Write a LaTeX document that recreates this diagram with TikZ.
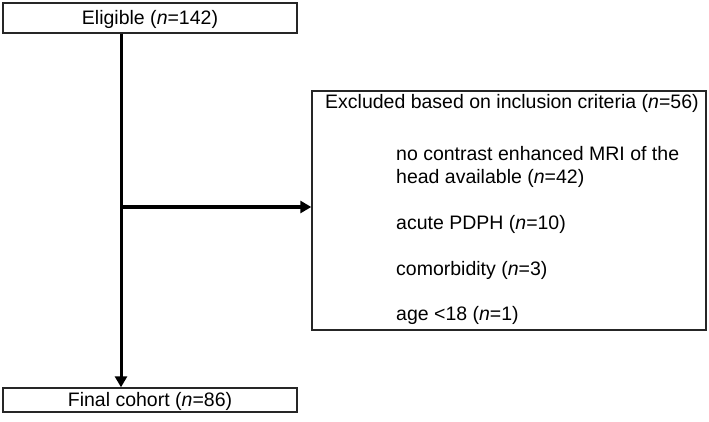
\documentclass[tikz,border=0pt]{standalone}
\usepackage{fontspec}
\setmainfont{Liberation Sans}
\usetikzlibrary{arrows.meta}
\begin{document}
\begin{tikzpicture}[x=1pt,y=1pt,
  box/.style={draw=black!85,line width=1.4pt,inner sep=0pt,fill=white},
  txt/.style={inner sep=0pt,anchor=west,font=\fontsize{19.5}{23}\selectfont,align=left},
  conn/.style={line width=3pt,-{Triangle[length=11pt,width=12pt]}}]
\useasboundingbox (0,0) rectangle (709,-422);
\node[box,minimum width=294,minimum height=30] (elig) at (150,-18) {};
\node[box,minimum width=294,minimum height=24] (final) at (150,-400) {};
\node[box,minimum width=394,minimum height=239] (excl) at (509,-210.5) {};
\node[txt,anchor=center] (te) at (150,-19.5) {Eligible (\textit{n}=142)};
\node[txt,anchor=center] (tf) at (150,-401.5) {Final cohort (\textit{n}=86)};
\node[txt] (t0) at (325,-103.5) {Excluded based on inclusion criteria (\textit{n}=56)};
\node[txt] (t1) at (396,-167) {no contrast enhanced MRI of the\\head available (\textit{n}=42)};
\node[txt] (t2) at (396,-224.5) {acute PDPH (\textit{n}=10)};
\node[txt] (t3) at (396,-270.5) {comorbidity (\textit{n}=3)};
\node[txt] (t4) at (396,-315.5) {age <18 (\textit{n}=1)};
\coordinate (j) at (121,-207);
\draw[conn] (elig.south -| j) -- (final.north -| j);
\draw[conn] (j) -- (j -| excl.west);
\end{tikzpicture}
\end{document}
